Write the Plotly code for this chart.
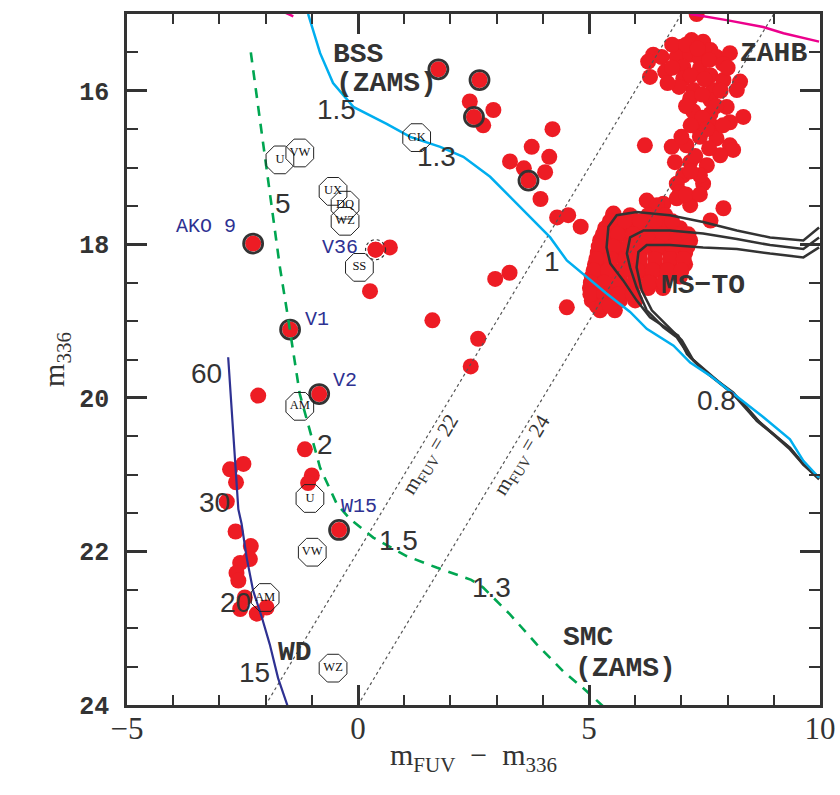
import plotly.graph_objects as go

# ---------------- data (m_FUV - m_336, m_336) ----------------
# plain red stars
red_x = [2.42, 2.93, 2.71, 4.21, 3.76, 3.29, 4.14, 3.59, 4.05, 3.95, 4.31, 4.55, 4.82,
         2.97, 3.28, 4.52, 2.60, 2.44,
         0.38, 0.69, 0.26, 1.61, -2.16, -1.15, -1.00, -1.08,
         -2.77, -2.48, -2.64, -2.84, -2.65, -2.32, -2.34, -2.55, -2.63, -2.59,
         -2.45, -2.55, -2.19, -1.98]
red_y = [16.14, 16.25, 16.45, 16.50, 16.73, 16.92, 16.86, 17.01, 17.06, 17.41, 17.65, 17.62, 17.77,
         18.45, 18.37, 18.82, 19.23, 19.59,
         18.07, 18.04, 18.61, 18.99, 19.97, 20.67, 21.01, 21.11,
         20.93, 20.86, 21.10, 21.35, 21.74, 21.93, 22.10, 22.15, 22.28, 22.38,
         22.60, 22.75, 22.81, 22.73]

# horizontal branch stars
zahb_x = [7.33, 7.22, 7.47, 6.97, 7.63, 6.90, 7.19, 7.40, 7.76, 8.05, 6.39, 6.57, 6.28, 6.65,
          6.32, 7.04, 7.40, 7.04, 7.63, 7.91, 8.27, 8.20, 7.26, 7.69, 7.19, 7.63, 7.98, 7.26,
          7.63, 8.34, 8.05, 7.33, 7.69, 7.40, 7.76, 6.21, 6.79, 7.11, 8.05, 8.12, 7.84, 6.86,
          7.55, 7.19, 7.04, 7.47, 6.90, 6.97, 6.25, 6.61, 7.19, 7.91, 7.63, 5.53, 6.47, 6.90,
          6.80, 7.10, 7.35, 7.60, 7.90, 6.80, 7.20, 7.50, 7.85, 6.95, 7.10, 7.45, 7.45, 7.20,
          7.55, 7.30, 7.40, 7.20, 7.10, 7.40, 7.00, 7.60, 6.70, 8.00, 7.75, 7.90]
zahb_y = [15.00, 15.34, 15.36, 15.43, 15.47, 15.56, 15.53, 15.58, 15.56, 15.51, 15.53, 15.56, 15.62, 15.75,
          15.82, 15.69, 15.71, 15.84, 15.80, 15.86, 15.88, 15.99, 15.99, 15.99, 16.10, 16.12, 16.21, 16.27,
          16.30, 16.34, 16.41, 16.47, 16.47, 16.60, 16.62, 16.71, 16.73, 16.71, 16.71, 16.77, 16.84, 16.93,
          16.97, 16.93, 17.10, 17.21, 17.21, 17.32, 17.43, 17.47, 17.49, 17.53, 17.69, 17.60, 17.49, 17.40,
          15.40, 15.40, 15.45, 15.60, 15.65, 15.70, 15.80, 15.85, 16.00, 15.95, 16.20, 16.05, 16.35, 16.45,
          16.50, 16.85, 17.10, 17.05, 17.35, 17.35, 16.60, 16.75, 15.90, 15.70, 16.20, 16.45]

# main-sequence turn-off stars
msto_x = [5.52, 5.89, 6.28, 6.65,
          5.35, 5.67, 6.00, 6.32, 6.65, 6.97,
          5.24, 5.56, 5.89, 6.21, 6.54, 6.86, 7.19,
          5.19, 5.50, 5.80, 6.10, 6.43, 6.75, 7.08,
          5.13, 5.45, 5.78, 6.10, 6.43, 6.75, 7.08,
          5.06, 5.37, 5.67, 6.00, 6.32, 6.65, 6.97,
          5.02, 5.30, 5.61, 5.93, 6.28, 6.60,
          5.06, 5.35, 5.67, 6.00,
          5.24, 5.56, 5.17, 5.60,
          5.45, 5.78, 6.10, 6.43, 6.80,
          5.30, 5.62, 5.95, 6.27, 6.60, 6.92, 7.15,
          5.21, 5.53, 5.85, 6.16, 6.49, 6.81, 7.13,
          5.16, 5.48, 5.79, 6.10, 6.43, 6.76, 7.05,
          5.10, 5.41, 5.73, 6.05, 6.38, 6.70, 7.00,
          5.04, 5.33, 5.64, 5.97, 6.30, 6.62,
          5.03, 5.33, 5.64, 5.95,
          5.30, 5.45]
msto_y = [17.62, 17.62, 17.62, 17.62,
          17.79, 17.79, 17.79, 17.79, 17.79, 17.79,
          17.95, 17.95, 17.95, 17.95, 17.95, 17.95, 17.95,
          18.11, 18.11, 18.11, 18.11, 18.11, 18.11, 18.11,
          18.26, 18.26, 18.26, 18.26, 18.26, 18.26, 18.26,
          18.42, 18.42, 18.42, 18.42, 18.42, 18.42, 18.42,
          18.57, 18.57, 18.57, 18.57, 18.57, 18.57,
          18.73, 18.73, 18.73, 18.73,
          18.86, 18.86, 18.80, 18.69,
          17.70, 17.70, 17.70, 17.70, 17.70,
          17.87, 17.87, 17.87, 17.87, 17.87, 17.87, 17.87,
          18.03, 18.03, 18.03, 18.03, 18.03, 18.03, 18.03,
          18.19, 18.19, 18.19, 18.19, 18.19, 18.19, 18.19,
          18.34, 18.34, 18.34, 18.34, 18.34, 18.34, 18.34,
          18.50, 18.50, 18.50, 18.50, 18.50, 18.50,
          18.65, 18.65, 18.65, 18.65,
          18.80, 18.80]

# stars marked with a ring
ring_x = [-2.27, 1.74, 2.63, 2.51, 3.69, -1.47, -0.84, -0.41]
ring_y = [17.99, 15.72, 15.86, 16.34, 17.17, 19.11, 19.95, 21.72]

# V36 (dotted ring)
v36_x = [0.38]
v36_y = [18.07]

# known cataclysmic variables (octagons)
cv_names = ["U", "VW", "GK", "UX", "DQ", "WZ", "SS", "AM", "U", "VW", "AM", "WZ"]
cv_x = [-1.69, -1.26, 1.27, -0.54, -0.28, -0.28, 0.03, -1.26, -1.04, -0.99, -2.01, -0.54]
cv_y = [16.90, 16.81, 16.61, 17.31, 17.49, 17.70, 18.30, 20.11, 21.31, 22.01, 22.60, 23.52]

# BSS ZAMS (cyan)
bss_x = [-1.08, -0.82, -0.54, -0.10, 0.62, 1.13, 1.78, 2.28, 2.86, 3.29, 3.76, 4.16, 4.52,
         4.95, 5.38, 5.89, 6.25, 6.83, 7.19, 7.62, 8.05, 8.41, 8.77, 9.35, 9.64, 9.98]
bss_y = [15.00, 15.51, 15.90, 16.21, 16.43, 16.60, 16.73, 16.86, 17.12, 17.38, 17.67, 17.91, 18.21,
         18.43, 18.64, 18.88, 19.10, 19.32, 19.54, 19.71, 19.91, 20.08, 20.25, 20.54, 20.82, 21.04]

# SMC ZAMS (green dashed)
smc_x = [-2.32, -1.69, -1.54, -1.26, -0.82, -0.46, -0.17, 0.33, 1.05, 1.70, 2.45, 2.71,
         3.29, 3.87, 4.44, 4.95, 5.31]
smc_y = [15.50, 18.30, 18.86, 19.95, 20.91, 21.38, 21.58, 21.82, 22.06, 22.21, 22.37, 22.47,
         22.82, 23.21, 23.56, 23.82, 24.02]

# white-dwarf cooling sequence (navy)
wd_x = [-2.81, -2.66, -2.59, -2.52, -2.41, -2.27, -2.08, -1.91, -1.73, -1.52]
wd_y = [19.47, 20.82, 21.45, 21.64, 22.08, 22.51, 22.86, 23.21, 23.65, 24.02]

# ZAHB (magenta)
hb_x = [7.19, 7.98, 8.77, 9.21, 9.98]
hb_y = [15.00, 15.08, 15.17, 15.25, 15.36]
hb2_x = [-1.62, -1.40]
hb2_y = [14.97, 15.03]

# isochrones (black)
iso1_x = [9.98, 9.64, 8.92, 8.20, 7.47, 6.75, 6.03, 5.60, 5.42, 5.38, 5.46, 5.74, 6.03, 6.32,
          6.75, 6.93, 7.12, 7.47, 8.12, 8.34, 8.63, 9.35, 9.64, 9.98]
iso1_y = [17.78, 17.95, 17.91, 17.82, 17.71, 17.62, 17.58, 17.62, 17.77, 18.04, 18.25, 18.47, 18.73, 18.95,
          19.12, 19.19, 19.43, 19.64, 19.93, 20.08, 20.30, 20.65, 20.86, 21.04]
iso2_x = [9.98, 9.64, 8.92, 8.20, 7.47, 6.75, 6.18, 5.89, 5.82, 5.89, 6.03, 6.25, 6.61, 6.90,
          7.19, 7.62, 8.12, 8.41, 8.70, 9.35, 9.64, 9.98]
iso2_y = [17.91, 18.06, 18.01, 17.93, 17.86, 17.82, 17.82, 17.91, 18.12, 18.30, 18.56, 18.86, 19.08, 19.21,
          19.47, 19.69, 19.95, 20.12, 20.32, 20.67, 20.87, 21.04]
iso3_x = [9.98, 9.64, 8.92, 8.20, 7.47, 6.75, 6.25, 6.07, 6.03, 6.14, 6.36, 6.75, 7.01, 7.26,
          7.62, 8.12, 8.56, 9.35, 9.64, 9.98]
iso3_y = [18.04, 18.17, 18.12, 18.06, 18.04, 18.01, 18.01, 18.10, 18.30, 18.60, 18.86, 19.10, 19.25, 19.51,
          19.71, 19.95, 20.25, 20.65, 20.87, 21.06]

# lines of constant m_FUV
mfuv_levels = [22, 24]
m336_span = [15, 24]

# text labels
slab_text = ["BSS", "(ZAMS)", "ZAHB", "MS\u2212TO", "WD", "SMC", "(ZAMS)"]
slab_x = [0.00, 0.62, 8.99, 7.47, -1.36, 4.99, 5.78]
slab_y = [15.53, 15.90, 15.51, 18.54, 23.32, 23.12, 23.52]

mass_text = ["1.5", "1.3", "5", "1", "0.8", "60", "2", "30", "1.5", "1.3", "20", "15"]
mass_x = [-0.46, 1.70, -1.62, 4.19, 7.75, -3.29, -0.71, -3.10, 0.87, 2.89, -2.66, -2.23]
mass_y = [16.25, 16.86, 17.47, 18.23, 20.03, 19.68, 20.61, 21.36, 21.86, 22.47, 22.67, 23.58]

id_text = ["AKO 9", "V36", "V1", "V2", "W15"]
id_x = [-3.28, -0.39, -0.89, -0.28, 0.03]
id_y = [17.77, 18.04, 18.98, 19.77, 21.41]

mlab_text = ["m<sub>FUV</sub> = 22", "m<sub>FUV</sub> = 24"]
mlab_x = [1.58, 3.57]
mlab_y = [20.75, 20.75]

x_ticks = [-5, 0, 5, 10]
x_ticktext = ["\u22125", "0", "5", "10"]
y_ticks = [16, 18, 20, 22, 24]

# ---------------- style ----------------
RED = "#ED1C24"
DARK = "#333333"
CYAN = "#00AEEF"
GREEN = "#00A651"
NAVY = "#2E3192"
MAGENTA = "#EC008C"

fig = go.Figure()

all_red_x = red_x + zahb_x + msto_x + v36_x + ring_x
all_red_y = red_y + zahb_y + msto_y + v36_y + ring_y
fig.add_trace(go.Scatter(x=all_red_x, y=all_red_y, mode="markers",
                         marker=dict(color=RED, size=16, line=dict(width=0))))
fig.add_trace(go.Scatter(x=ring_x, y=ring_y, mode="markers",
                         marker=dict(symbol="circle-open", size=19, color=DARK,
                                     line=dict(width=2.8, color=DARK))))

# constant m_FUV lines
for m in mfuv_levels:
    fig.add_trace(go.Scatter(x=[m - v for v in m336_span], y=m336_span, mode="lines",
                             line=dict(color="#555555", width=1.2, dash="dot")))

fig.add_trace(go.Scatter(x=smc_x, y=smc_y, mode="lines",
                         line=dict(color=GREEN, width=2.6, dash="10px,8px")))
fig.add_trace(go.Scatter(x=wd_x, y=wd_y, mode="lines", line=dict(color=NAVY, width=2.2)))
for ix, iy in [(iso1_x, iso1_y), (iso2_x, iso2_y), (iso3_x, iso3_y)]:
    fig.add_trace(go.Scatter(x=ix, y=iy, mode="lines", line=dict(color=DARK, width=2.5)))
fig.add_trace(go.Scatter(x=bss_x, y=bss_y, mode="lines", line=dict(color=CYAN, width=2.5)))
fig.add_trace(go.Scatter(x=hb_x, y=hb_y, mode="lines", line=dict(color=MAGENTA, width=2.5)))
fig.add_trace(go.Scatter(x=hb2_x, y=hb2_y, mode="lines", line=dict(color=MAGENTA, width=2.5)))

fig.add_trace(go.Scatter(x=cv_x, y=cv_y, mode="markers+text", text=cv_names,
                         textposition="middle center",
                         textfont=dict(family="Liberation Serif", size=12.5, color="#111111"),
                         marker=dict(symbol="octagon-open", size=30, color="#222222",
                                     line=dict(width=1, color="#222222"))))

# dotted ring around V36
fig.add_shape(type="circle", xref="x", yref="y", xsizemode="pixel", ysizemode="pixel",
              xanchor=v36_x[0], yanchor=v36_y[0], x0=-10, x1=10, y0=-10, y1=10,
              line=dict(color="#333333", width=1.2, dash="dot"))

for t, x, y in zip(slab_text, slab_x, slab_y):
    fig.add_annotation(x=x, y=y, text=t, showarrow=False,
                       font=dict(family="Liberation Mono", size=28, color=DARK, weight="bold"))
for t, x, y in zip(mass_text, mass_x, mass_y):
    fig.add_annotation(x=x, y=y, text=t, showarrow=False,
                       font=dict(family="Liberation Sans", size=28, color=DARK))
for t, x, y in zip(id_text, id_x, id_y):
    fig.add_annotation(x=x, y=y, text=t, showarrow=False,
                       font=dict(family="Liberation Mono", size=20, color=NAVY))
for t, x, y in zip(mlab_text, mlab_x, mlab_y):
    fig.add_annotation(x=x, y=y, text=t, showarrow=False, textangle=-59,
                       font=dict(family="Liberation Serif", size=21, color=DARK))

axis_common = dict(showgrid=False, zeroline=False, showline=True, linewidth=2.5,
                   linecolor=DARK, mirror="allticks", ticks="inside", ticklen=20,
                   tickwidth=2.5, tickcolor=DARK, automargin=False)

fig.update_xaxes(range=[-5, 10], tickvals=x_ticks, ticktext=x_ticktext,
                 minor=dict(dtick=1, tick0=0, ticks="inside", ticklen=10, tickwidth=2.2,
                            tickcolor=DARK),
                 tickfont=dict(family="Liberation Serif", size=31, color=DARK),
                 ticklabelstandoff=-6,
                 title=dict(text="m<sub>FUV</sub>  \u2212  m<sub>336</sub>",
                            font=dict(family="Liberation Serif", size=30, color=DARK),
                            standoff=0),
                 **axis_common)
fig.update_yaxes(range=[24, 15], tickvals=y_ticks,
                 minor=dict(dtick=0.5, tick0=0, ticks="inside", ticklen=11, tickwidth=2.2,
                            tickcolor=DARK),
                 tickfont=dict(family="Liberation Mono", size=25, color=DARK, weight="bold"),
                 ticklabelstandoff=10,
                 title=dict(text="m<sub>336</sub>",
                            font=dict(family="Liberation Serif", size=30, color=DARK),
                            standoff=6),
                 **axis_common)

fig.update_layout(width=840, height=795, showlegend=False,
                  margin=dict(l=127, r=20, t=14, b=90),
                  plot_bgcolor="white", paper_bgcolor="white")

fig.write_html("out.html")
